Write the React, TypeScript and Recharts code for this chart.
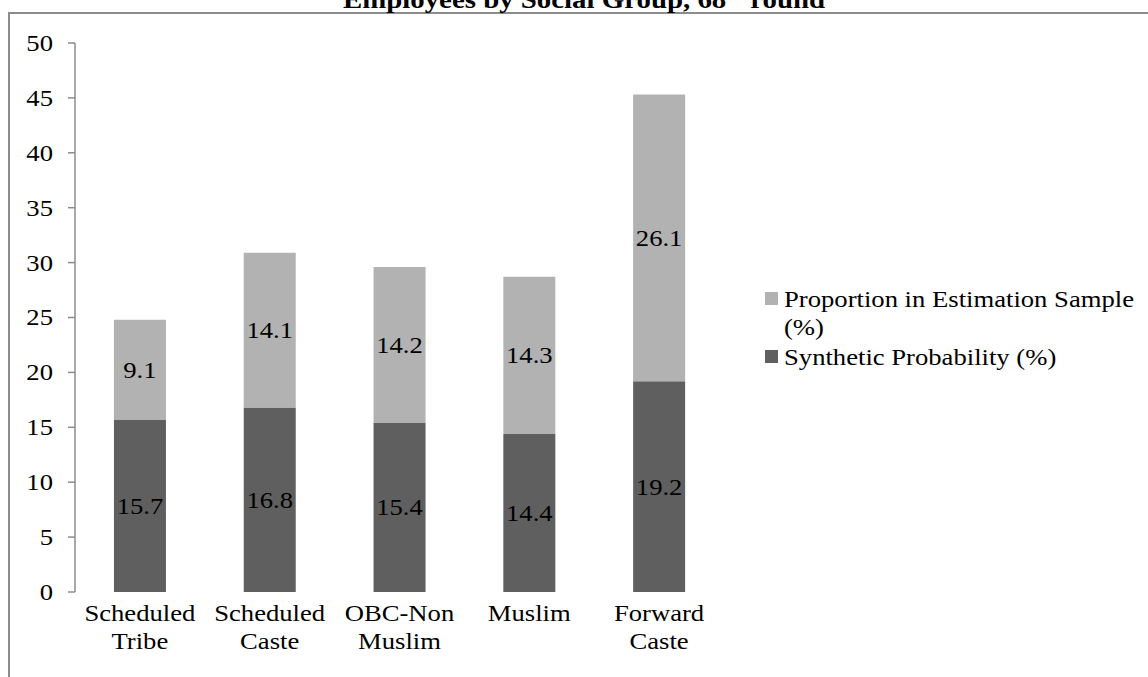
import React from "react";
import { BarChart, Bar, XAxis, YAxis, LabelList } from "recharts";

const categories = ["Scheduled Tribe", "Scheduled Caste", "OBC-Non Muslim", "Muslim", "Forward Caste"];
const categoryLines = [["Scheduled", "Tribe"], ["Scheduled", "Caste"], ["OBC-Non", "Muslim"], ["Muslim"], ["Forward", "Caste"]];
const synthetic = [15.7, 16.8, 15.4, 14.4, 19.2];
const proportion = [9.1, 14.1, 14.2, 14.3, 26.1];
const yTicks = [0, 5, 10, 15, 20, 25, 30, 35, 40, 45, 50];
const boundaryTicks = [0, 1, 2, 3, 4, 5];
const seriesNames = ["Proportion in Estimation Sample (%)", "Synthetic Probability (%)"];
const legendLines = [["Proportion in Estimation Sample", "(%)"], ["Synthetic Probability (%)"]];

const data = categories.map((c, i) => ({ name: c, idx: i, synthetic: synthetic[i], proportion: proportion[i] }));

const FONT = "'Liberation Serif', 'Times New Roman', serif";
const DARK = "#5f5f5f";
const LIGHT = "#b2b2b2";
const AXIS = "#8c8c8c";
const STRETCH = "scaleX(1.11)";

const stretchCenter: any = { transform: STRETCH, transformBox: "fill-box", transformOrigin: "center" };
const stretchRight: any = { transform: STRETCH, transformBox: "fill-box", transformOrigin: "right center" };

const CatTick = (props: any) => {
  const { x, y, payload } = props;
  const lines = categoryLines[payload.index] || [String(payload.value)];
  return (
    <g>
      {lines.map((l: string, k: number) => (
        <text key={k} x={x} y={y + 21 + k * 28} textAnchor="middle" fontFamily={FONT} fontSize={24} fill="#000" style={stretchCenter}>
          {l}
        </text>
      ))}
    </g>
  );
};

const YTick = (props: any) => {
  const { x, y, payload } = props;
  return (
    <text x={x} y={y + 8} textAnchor="end" fontFamily={FONT} fontSize={24} fill="#000" style={stretchRight}>
      {payload.value}
    </text>
  );
};

const ValueLabel = (props: any) => {
  const { x, y, width, height, value } = props;
  return (
    <text x={x + width / 2} y={y + height / 2 + 8} textAnchor="middle" fontFamily={FONT} fontSize={24} fill="#000" style={stretchCenter}>
      {Number(value).toFixed(1)}
    </text>
  );
};

const LegendBox = () => (
  <div style={{ position: "absolute", left: 765, top: 285, width: 380, fontFamily: FONT, fontSize: 24, color: "#000", lineHeight: "28px" }}>
    {[LIGHT, DARK].map((col, i) => (
      <div key={seriesNames[i]} style={{ position: "relative", paddingLeft: 19, marginBottom: 2 }}>
        <span style={{ position: "absolute", left: 0, top: 7, width: 13, height: 13, background: col }} />
        <div style={{ transform: STRETCH, transformOrigin: "left center", whiteSpace: "nowrap" }}>
          {legendLines[i].map((l, k) => (
            <div key={k}>{l}</div>
          ))}
        </div>
      </div>
    ))}
  </div>
);

export default function App() {
  return (
    <div style={{ position: "absolute", left: 0, top: 0, width: 1148, height: 677, overflow: "hidden", background: "#fff" }}>
      <div style={{ position: "absolute", left: 8, top: 12, width: 1200, height: 700, borderLeft: `2px solid ${AXIS}`, borderTop: `2px solid ${AXIS}` }} />
      <div style={{ position: "absolute", left: 0, top: 0 }}>
        <BarChart width={1148} height={677} data={data} margin={{ top: 43, right: 424, bottom: 0, left: 0 }} barCategoryGap="30%">
          <text x={584} y={8} textAnchor="middle" fontFamily={FONT} fontSize={26} fontWeight="bold" fill="#000" style={stretchCenter}>
            Employees by Social Group, 68<tspan dy={-10} fontSize={17}>th</tspan><tspan dy={10}> round</tspan>
          </text>
          <XAxis
            xAxisId="bound"
            type="number"
            domain={[0, 5]}
            ticks={boundaryTicks}
            allowDataOverflow
            height={0}
            axisLine={{ stroke: AXIS, strokeWidth: 1.5 }}
            tickLine={{ stroke: AXIS, strokeWidth: 1.5 }}
            tickSize={7}
            tick={() => <g />}
          />
          <XAxis
            xAxisId="cat"
            dataKey="name"
            height={85}
            axisLine={false}
            tickLine={false}
            interval={0}
            tick={<CatTick />}
          />
          <YAxis
            domain={[0, 50]}
            ticks={yTicks}
            width={75}
            axisLine={{ stroke: AXIS, strokeWidth: 1.5 }}
            tickLine={{ stroke: AXIS, strokeWidth: 1.5 }}
            tickSize={7}
            tickMargin={15}
            tick={<YTick />}
          />
          <Bar xAxisId="cat" dataKey="synthetic" name={seriesNames[1]} stackId="a" fill={DARK} isAnimationActive={false}>
            <LabelList dataKey="synthetic" content={<ValueLabel />} />
          </Bar>
          <Bar xAxisId="cat" dataKey="proportion" name={seriesNames[0]} stackId="a" fill={LIGHT} isAnimationActive={false}>
            <LabelList dataKey="proportion" content={<ValueLabel />} />
          </Bar>
        </BarChart>
      </div>
      <LegendBox />
    </div>
  );
}
